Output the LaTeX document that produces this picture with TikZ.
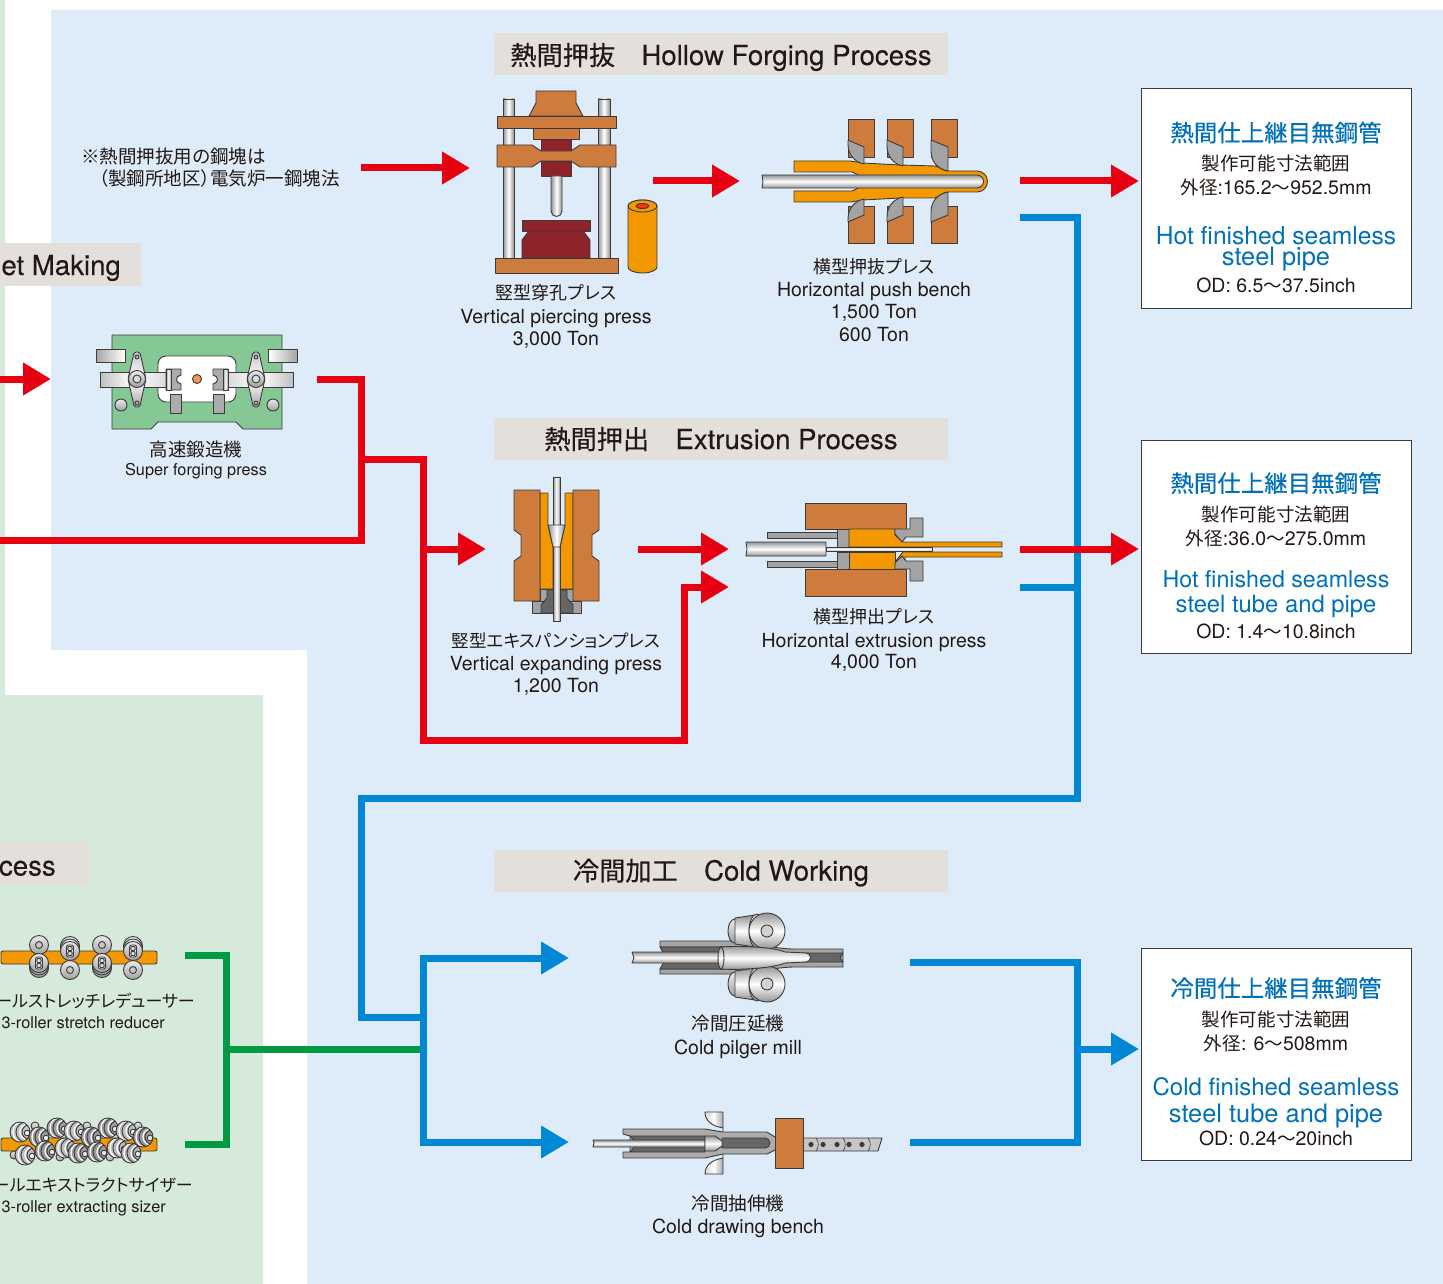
\documentclass[tikz,border=0pt]{standalone}
\usepackage{fontspec}
\setmainfont{TeX Gyre Heros}
\newfontfamily\cjk[Scale=0.95,RawFeature=+palt]{Noto Sans CJK JP}
\newfontfamily\cjkb[Scale=0.95,RawFeature=+palt,FakeBold=0.35]{Noto Sans CJK JP}
\newfontfamily\latb[FakeBold=0.2]{TeX Gyre Heros}
\newcommand{\J}[1]{{\cjk #1}}
\newcommand{\JB}[1]{{\cjkb #1}}
\usetikzlibrary{arrows.meta}
\definecolor{bgblue}{HTML}{DEECFA}
\definecolor{bggreen}{HTML}{D5EADB}
\definecolor{titlebg}{HTML}{E3DFDB}
\definecolor{cred}{HTML}{E60012}
\definecolor{cblue}{HTML}{0088D4}
\definecolor{cgreen}{HTML}{009944}
\definecolor{tblue}{HTML}{0070B8}
\definecolor{txt}{HTML}{231815}
\definecolor{die}{HTML}{CD7C3E}
\definecolor{tube}{HTML}{F39800}
\definecolor{dred}{HTML}{8E232B}
\definecolor{outl}{HTML}{3C3A3A}
\definecolor{mg}{HTML}{A3A3A3}
\definecolor{dg}{HTML}{666666}
\definecolor{pgreen}{HTML}{85C795}
\definecolor{billet}{HTML}{F0955A}
\tikzset{
  x=1pt,y=-1pt,
  part/.style={draw=outl,line width=.9pt,line join=round},
  diepart/.style={part,fill=die},
  tubepart/.style={part,fill=tube},
  redpart/.style={part,fill=dred},
  graypart/.style={part,fill=mg},
  darkpart/.style={part,fill=dg},
  mv/.style={part,left color=gray!85,right color=gray!85,middle color=white},
  mh/.style={part,top color=gray!85,bottom color=gray!85,middle color=white},
  mt/.style={part,top color=gray!15,bottom color=gray!75},
  conn/.style={line width=7pt},
  redline/.style={conn,draw=cred},
  blueline/.style={conn,draw=cblue},
  greenline/.style={conn,draw=cgreen},
  tip/.style={-{Triangle[length=28pt,width=31pt]}},
  titlebox/.style={inner sep=0pt,text height=20pt,text depth=0pt,font=\fontsize{27.6}{27.6}\selectfont\latb,text=txt},
  lab/.style={font=\fontsize{19.5}{19.5}\selectfont,text=txt,inner sep=0pt,text height=14pt,text depth=0pt},
  labs/.style={font=\fontsize{16.3}{16.3}\selectfont,text=txt,inner sep=0pt,text height=12pt,text depth=0pt},
  kanab/.style={font=\fontsize{18.9}{18.9}\selectfont,text=txt,inner sep=0pt,text height=14pt,text depth=0pt},
  kanas/.style={font=\fontsize{17.9}{17.9}\selectfont,text=txt,inner sep=0pt,text height=13pt,text depth=0pt},
  headj/.style={font=\fontsize{24.7}{24.7}\selectfont,text=tblue,inner sep=0pt,text height=18pt,text depth=0pt},
  heade/.style={font=\fontsize{24.6}{24.6}\selectfont,text=tblue,inner sep=0pt,text height=18pt,text depth=0pt},
  resultbox/.style={draw=outl,line width=.8pt,fill=white},
}
\newcommand{\SmallRoll}[2]{%
  \draw[mt] (#1,#2) circle[radius=9.5];
  \draw[part,fill=gray!45] (#1,#2) circle[radius=3.5];}
\newcommand{\TripleRoll}[3]{%
  \foreach \k in {2,1}{\draw[mt] (#1,#2+#3*\k*2.5) circle[radius=9.5];}
  \draw[mt] (#1,#2) circle[radius=9.5];
  \draw[part,fill=gray!25,rounded corners=2pt] (#1-3.5,#2-6) rectangle (#1+3.5,#2+6);
  \draw[part] (#1,#2-2.5) circle[radius=2.3] (#1,#2+2.5) circle[radius=2.3];}
\newcommand{\Stripe}[3]{%
  \begin{scope}
  \clip (#1,#2) circle[radius=10];
  \fill[gray!#3] (#1,#2) circle[radius=10];
  \draw[white,line width=1.2pt] (#1+4,#2) circle[radius=11];
  \draw[outl,line width=.9pt] (#1+6,#2) circle[radius=10];
  \draw[white,line width=1.2pt] (#1+8,#2) circle[radius=8];
  \draw[outl,line width=.9pt] (#1+9,#2) circle[radius=7];
  \end{scope}
  \draw[part] (#1,#2) circle[radius=10];
  \draw[part,fill=gray!15] (#1+7,#2+1) circle[radius=2.8];}
\newcommand{\Arm}[1]{%
  \draw[part,top color=gray!45,bottom color=gray!70,middle color=white,rounded corners=2pt]
    (#1-3,352)--(#1+3,352)--(#1+4,357)--(#1+9,379)--(#1+4,401)--(#1+3,407)--(#1-3,407)--(#1-4,401)--(#1-9,379)--(#1-4,357)--cycle;
  \draw[part,fill=gray!60] (#1,357) circle[radius=2] (#1,403) circle[radius=2];
  \draw[mt] (#1,379) circle[radius=8.5];
  \draw[part,fill=gray!30] (#1,379) circle[radius=4];}
\newcommand{\BigRoll}[1]{%
  \draw[mt] (735,#1) ellipse[x radius=7,y radius=12];
  \draw[mh] (735,#1-13) -- (755,#1-16) -- (755,#1+16) -- (735,#1+13) -- cycle;
  \draw[mt] (757,#1) ellipse[x radius=8,y radius=17];
  \draw[mh] (767,#1) circle[radius=18];
  \draw[part,fill=gray!35] (767,#1) circle[radius=6];}
\begin{document}
\begin{tikzpicture}
\useasboundingbox (0,0) rectangle (1443,1284);
\fill[white] (0,0) rectangle (1443,1284);
% backgrounds
\fill[bgblue] (51,10)--(1443,10)--(1443,1284)--(307,1284)--(307,650)--(51,650)--cycle;
\fill[bggreen] (0,0)--(5,0)--(5,695)--(263,695)--(263,1284)--(0,1284)--cycle;
% titles
\fill[titlebg] (494,33) rectangle (948,75);
\node[titlebox] (t1) at (721,55) {\JB{熱間押抜　}Hollow Forging Process};
\fill[titlebg] (494,418) rectangle (948,460);
\node[titlebox] (t2) at (721,439) {\JB{熱間押出　}Extrusion Process};
\fill[titlebg] (494,850) rectangle (948,892);
\node[titlebox] (t3) at (721,870.5) {\JB{冷間加工　}Cold Working};
\fill[titlebg] (0,243) rectangle (141,286);
\node[titlebox,anchor=east] (t4) at (121,265) {et Making};
\fill[titlebg] (0,842) rectangle (90,885);
\node[titlebox,anchor=east] (t5) at (56,865.5) {cess};
% note
\node[lab,anchor=west] (n1) at (81,157) {\J{※熱間押抜用の鋼塊は}};
\node[lab,anchor=east] (n2) at (340,179) {\J{（製鋼所地区）電気炉一鋼塊法}};
% coordinates
\foreach \n/\x/\y in {
 a1/361/168,a2/470/168,b1/653/181,b2/740/181,c1/1020/181,c2/1139/181,
 d1/0/379,d2/51/379,e1/317/379,e2/361/379,e3/361/540,e4/0/540,
 f1/361/459,f2/423/459,f3/423/549,f4/486/549,g1/423/740,g2/684/740,g3/684/587,g4/729/587,
 h1/638/549,h2/729/549,i1/1020/549,i2/1139/549,
 j1/1020/218,j2/1077/218,j3/1077/798,j4/361/798,j5/361/1017,j6/423/1017,
 k1/1020/587,k2/1077/587,l1/423/958,l2/569/958,l3/423/1142,l4/569/1142,
 m1/910/962,m2/1077/962,m3/1077/1142,m4/910/1142,m5/1077/1049,m6/1139/1049,
 q1/185/955,q2/226/955,q3/226/1144,q4/185/1144,q5/226/1049,q6/423/1049}
 {\coordinate (\n) at (\x,\y);}
% green
\draw[greenline] (q1)--(q2)--(q3)--(q4);
\draw[greenline] (q5)--(q6);
% blue connectors
\draw[blueline] (j1)--(j2)--(j3)--(j4)--(j5)--(j6);
\draw[blueline] (k1)--(k2);
\draw[blueline,tip] (l3)--(l1)--(l2);
\draw[blueline,tip] (l1)--(l3)--(l4);
\draw[blueline] (m1)--(m2)--(m3)--(m4);
\draw[blueline,tip] (m5)--(m6);
% red
\draw[redline,tip] (a1)--(a2);
\draw[redline,tip] (b1)--(b2);
\draw[redline,tip] (c1)--(c2);
\draw[redline,tip] (d1)--(d2);
\draw[redline] (e1)--(e2)--(e3)--(e4);
\draw[redline,tip] (f1)--(f2)--(f3)--(f4);
\draw[redline,tip] (f3)--(g1)--(g2)--(g3)--(g4);
\draw[redline,tip] (h1)--(h2);
\draw[redline,tip] (i1)--(i2);
% vertical piercing press
\draw[mv] (503,99) rectangle (514,258);
\draw[mv] (598,99) rectangle (610,258);
\draw[diepart] (536,91)--(576,91)--(576,103)--(583,116)--(529,116)--(536,103)--cycle;
\draw[diepart] (497,116) rectangle (616,128);
\draw[diepart] (533,128) rectangle (579,139);
\draw[redpart] (541,139) rectangle (571,151);
\draw[redpart] (541,161) rectangle (571,176);
\draw[diepart] (497,145)--(532,145)--(541,151)--(571,151)--(580,145)--(616,145)--(616,167)--(580,167)--(571,161)--(541,161)--(532,167)--(497,167)--cycle;
\draw[mv] (551,176)--(562,176)--(562,211) arc[start angle=0,end angle=180,radius=5.5] -- cycle;
\draw[redpart] (522,220) rectangle (590,231);
\draw[redpart] (529,231)--(583,231)--(590,240)--(590,258)--(522,258)--(522,240)--cycle;
\draw[diepart] (495,258) rectangle (618,273);
\draw[tubepart] (628,206) -- (628,267) arc[start angle=180,end angle=0,x radius=14.5,y radius=6] -- (657,206) arc[start angle=0,end angle=-180,x radius=14.5,y radius=6] -- cycle;
\draw[tubepart] (642.5,206) ellipse[x radius=14.5,y radius=6];
\draw[part,fill=red!60!orange] (642.5,206) ellipse[x radius=6.5,y radius=2.5];
% horizontal push bench
\foreach \x in {848,887,931}{
  \draw[diepart] (\x,119) rectangle (\x+26.5,157);
  \draw[diepart] (\x,206) rectangle (\x+26.5,243);
}
\draw[tubepart] (794,161)--(850,161)--(863,163)--(900,165)--(935,166) .. controls (940,167) and (943,171) .. (948,171) -- (977,171) arc[start angle=-90,end angle=90,radius=10.5] -- (948,192) .. controls (943,192) and (940,197) .. (935,198) -- (900,198)--(863,200)--(850,202)--(794,202)--(794,191)--(852,191)--(858,188)--(858,175)--(852,172)--(794,172)--cycle;
\draw[mh] (762,175) -- (977,175) arc[start angle=-90,end angle=90,radius=6.5] -- (762,188) -- (763,182) -- cycle;
\foreach \x/\b/\e in {848/164/16,887/166/16,931/171/17}{
  \draw[graypart] (\x,140)--(\x+\e,147)--(\x+\e,\b) .. controls (\x+6,\b-2) and (\x,\b-10) .. (\x,\b-20) -- cycle;
  \draw[graypart] (\x,222)--(\x+\e,215)--(\x+\e,363-\b) .. controls (\x+6,365-\b) and (\x,373-\b) .. (\x,383-\b) -- cycle;
}
% super forging press
\draw[part,fill=pgreen] (112,335)--(282,335)--(282,429)--(243,429)--(236,422)--(158,422)--(151,429)--(112,429)--cycle;
\draw[part,fill=white,rounded corners=8pt] (158,356) rectangle (236,402);
\draw[part,left color=gray!70,right color=white] (96,349) rectangle (125,362);
\draw[part,left color=white,right color=gray!70] (268,349) rectangle (297,362);
\draw[part,left color=gray!50,right color=gray!30,middle color=white] (100,372) rectangle (166,387);
\draw[part,left color=gray!30,right color=gray!50,middle color=white] (227,372) rectangle (293,387);
\draw[darkpart,fill=gray!65] (170,394) rectangle (181,413);
\draw[darkpart,fill=gray!65] (213,394) rectangle (224,413);
\draw[mt] (121,405) circle[radius=6];
\draw[mt] (273,405) circle[radius=6];
\Arm{137}\Arm{256}
\draw[part,fill=gray!65] (166,369)--(181,369)--(181,375) .. controls (175,376) and (175,383) .. (181,384) -- (181,390)--(166,390)--cycle;
\draw[part,fill=gray!65] (228,369)--(213,369)--(213,375) .. controls (219,376) and (219,383) .. (213,384) -- (213,390)--(228,390)--cycle;
\draw[mv] (166,369) rectangle (171,390);
\draw[mv] (223,369) rectangle (228,390);
\draw[part,fill=billet] (197,379) circle[radius=4.5];
% vertical expanding press
\draw[graypart] (532,601) rectangle (581,613);
\draw[graypart] (540,589) rectangle (573,601);
\draw[darkpart] (547,590)--(547,598)--(541,605)--(541,613)--(573,613)--(573,605)--(567,598)--(567,590)--cycle;
\draw[tubepart] (540,493)--(548,493)--(548,525)--(553,547)--(553,589)--(540,589)--cycle;
\draw[tubepart] (573,493)--(565,493)--(565,525)--(560,547)--(560,589)--(573,589)--cycle;
\draw[mv] (553,477) rectangle (560,621);
\draw[mv] (548,525)--(565,525)--(560,547)--(553,547)--cycle;
\draw[diepart] (514,490)--(540,490)--(540,601)--(514,601)--(514,561)--(521,556)--(521,535)--(514,530)--cycle;
\draw[diepart] (599,490)--(573,490)--(573,601)--(599,601)--(599,561)--(592,556)--(592,535)--(599,530)--cycle;
% horizontal extrusion press
\draw[diepart] (805,503) rectangle (906,529);
\draw[diepart] (805,569) rectangle (906,596);
\draw[graypart] (767,532) rectangle (837,538);
\draw[graypart] (767,561) rectangle (837,567);
\draw[graypart] (837,529) rectangle (849,547);
\draw[graypart] (837,552) rectangle (849,569);
\draw[tubepart] (849,529)--(895,529)--(895,535)--(903,542)--(1002,542)--(1002,547)--(849,547)--cycle;
\draw[tubepart] (849,569)--(895,569)--(895,562)--(903,552)--(1002,552)--(1002,557)--(905,557)--(905,569)--cycle;
\draw[tubepart] (849,552) rectangle (895,569);
\draw[graypart] (895,529)--(910,529)--(910,518)--(923,518)--(923,537)--(906,537)--(902,542)--(895,534)--cycle;
\draw[graypart] (895,569)--(910,569)--(910,581)--(923,581)--(923,561)--(906,561)--(902,556)--(895,563)--cycle;
\draw[part,top color=gray!60,bottom color=gray!60,middle color=white] (826,547) rectangle (932,551);
\draw[mh] (746,542)--(826,542)--(826,556)--(746,556)--(747,549)--cycle;
% cold pilger mill
\draw[graypart,fill=gray!70] (660,941)--(760,941)--(770,947)--(660,947)--cycle;
\draw[graypart,fill=gray!70] (660,969)--(770,969)--(760,974)--(660,974)--cycle;
\draw[darkpart] (660,947)--(725,947)--(725,969)--(660,969)--(666,958)--cycle;
\draw[part,fill=gray!70] (770,947)  .. controls (782,948) and (785,949) .. (795,949) -- (843,949)--(843,967)--(795,967) .. controls (785,967) and (782,968) .. (770,969) --cycle;
\draw[darkpart] (800,953)--(843,953)--(840,958)--(843,962)--(800,962)--cycle;
\draw[mh] (632,952)--(720,952)--(720,963)--(632,963)--(634,958)--cycle;
\BigRoll{931}
\BigRoll{984}
\draw[mh] (720,947) .. controls (735,946) and (770,946) .. (785,952) -- (806,953) arc[start angle=-90,end angle=90,radius=4.5] -- (785,963) .. controls (770,969) and (735,970) .. (720,969) -- cycle;
\draw[mh] (721,958) ellipse[x radius=3,y radius=11];
% cold drawing bench
\draw[part,left color=gray!30,right color=gray!70,middle color=white] (705,1112)--(723,1112)--(723,1174)--(705,1174) .. controls (705,1165) and (712,1160) .. (723,1158) -- (723,1128) .. controls (712,1126) and (705,1121) .. cycle;
\draw[graypart,fill=gray!65] (623,1129)--(705,1129)--(723,1132)--(767,1132)--(775,1137)--(783,1139)--(783,1148)--(775,1150)--(767,1154)--(723,1154)--(705,1158)--(623,1158)--(623,1152)--(630,1152)--(630,1136)--(623,1134)--cycle;
\draw[darkpart] (630,1136)--(705,1136)--(705,1152)--(630,1152)--(637,1144)--cycle;
\draw[darkpart] (722,1138)--(765,1138) arc[start angle=-90,end angle=90,radius=5] -- (722,1148)--cycle;
\draw[mh] (593,1140)--(705,1140)--(705,1147)--(593,1147)--(594,1143)--cycle;
\draw[mh] (705,1136)--(715,1136)--(722,1141)--(722,1146)--(715,1151)--(705,1151)--cycle;
\draw[graypart,fill=gray!45] (803,1138)--(882,1138)--(878,1151)--(803,1151)--cycle;
\foreach \x in {811,823,837,849,862}{\fill[outl] (\x,1144.5) circle[radius=2.6];}
\foreach \x in {816,843,868}{\draw[outl,line width=.6pt] (\x,1138) .. controls (\x+3,1141) and (\x+3,1148) .. (\x,1151);}
\draw[diepart] (775,1118) rectangle (803,1168);
% stretch reducer
\draw[tubepart,rounded corners=2pt] (1,951) rectangle (157,964);
\SmallRoll{39}{945}\TripleRoll{39}{963}{1}
\TripleRoll{70}{951}{-1}\SmallRoll{70}{970}
\SmallRoll{102}{945}\TripleRoll{102}{963}{1}
\TripleRoll{133}{951}{-1}\SmallRoll{133}{970}
% extracting sizer
\draw[tubepart,rounded corners=2pt] (1,1138) rectangle (157,1151);
\foreach \x/\y in {35/1126,87/1126,138/1126,14/1155,60/1157,110/1157}{\draw[mt] (\x,\y) circle[radius=4];}
\foreach \x/\y/\g in {20/1132/45,57/1128/75,74/1131/50,108/1128/75,126/1131/50,39/1137/80,91/1137/80,143/1137/80}{\Stripe{\x}{\y}{\g}}
\foreach \x/\y/\g in {25/1155/50,45/1151/80,65/1148/50,78/1153/75,97/1152/80,117/1148/50,131/1153/60}{\Stripe{\x}{\y}{\g}}
% labels
\node[kanab] (p1a) at (556,292) {\J{竪型穿孔プレス}};
\node[lab] (p1b) at (556,316) {Vertical piercing press};
\node[lab] (p1c) at (556,338) {3,000 Ton};
\node[kanab] (p2a) at (874,266) {\J{横型押抜プレス}};
\node[lab] (p2b) at (874,289) {Horizontal push bench};
\node[lab] (p2c) at (874,311) {1,500 Ton};
\node[lab] (p2d) at (874,334) {600 Ton};
\node[lab] (p3a) at (196,449) {\J{高速鍛造機}};
\node[labs] (p3b) at (196,469) {Super forging press};
\node[kanab,font=\fontsize{18.5}{18.5}\selectfont] (p4a) at (556,640) {\J{竪型エキスパンションプレス}};
\node[lab] (p4b) at (556,663) {Vertical expanding press};
\node[lab] (p4c) at (556,685) {1,200 Ton};
\node[kanab] (p5a) at (874,616) {\J{横型押出プレス}};
\node[lab] (p5b) at (874,640) {Horizontal extrusion press};
\node[lab] (p5c) at (874,661) {4,000 Ton};
\node[lab] (p6a) at (738,1023) {\J{冷間圧延機}};
\node[lab] (p6b) at (738,1047) {Cold pilger mill};
\node[lab] (p7a) at (738,1203) {\J{冷間抽伸機}};
\node[lab] (p7b) at (738,1226) {Cold drawing bench};
\node[kanas,anchor=east] (p8a) at (195,1001) {\J{ールストレッチレデューサー}};
\node[labs,anchor=east] (p8b) at (165,1022) {3-roller stretch reducer};
\node[kanas,anchor=east] (p9a) at (193,1185) {\J{ールエキストラクトサイザー}};
\node[labs,anchor=east] (p9b) at (166,1206) {3-roller extracting sizer};
% result boxes
\draw[resultbox] (1141,88) rectangle (1411.5,308);
\node[headj] (r1a) at (1276,132.5) {\JB{熱間仕上継目無鋼管}};
\node[lab] (r1b) at (1276,163.5) {\J{製作可能寸法範囲}};
\node[lab] (r1c) at (1276,187.5) {\J{外径}:165.2\J{～}952.5mm};
\node[heade] (r1d) at (1276,235) {Hot finished seamless};
\node[heade,font=\fontsize{25.4}{25.4}\selectfont] (r1e) at (1276,256.5) {steel pipe};
\node[lab] (r1f) at (1276,285) {OD: 6.5\J{～}37.5inch};
\draw[resultbox] (1141,440) rectangle (1411.5,653);
\node[headj] (r2a) at (1276,483) {\JB{熱間仕上継目無鋼管}};
\node[lab] (r2b) at (1276,514) {\J{製作可能寸法範囲}};
\node[lab] (r2c) at (1276,538) {\J{外径}:36.0\J{～}275.0mm};
\node[heade,font=\fontsize{23.2}{23.2}\selectfont] (r2d) at (1276,578.5) {Hot finished seamless};
\node[heade,font=\fontsize{23.8}{23.8}\selectfont] (r2e) at (1276,603.5) {steel tube and pipe};
\node[lab] (r2f) at (1276,631) {OD: 1.4\J{～}10.8inch};
\draw[resultbox] (1141,948) rectangle (1411.5,1160);
\node[headj] (r3a) at (1276,988) {\JB{冷間仕上継目無鋼管}};
\node[lab] (r3b) at (1276,1019) {\J{製作可能寸法範囲}};
\node[lab] (r3c) at (1276,1043) {\J{外径}: 6\J{～}508mm};
\node[heade,font=\fontsize{24}{24}\selectfont] (r3d) at (1276,1086) {Cold finished seamless};
\node[heade,font=\fontsize{25.4}{25.4}\selectfont] (r3e) at (1276,1113) {steel tube and pipe};
\node[lab] (r3f) at (1276,1138) {OD: 0.24\J{～}20inch};
\end{tikzpicture}
\end{document}
